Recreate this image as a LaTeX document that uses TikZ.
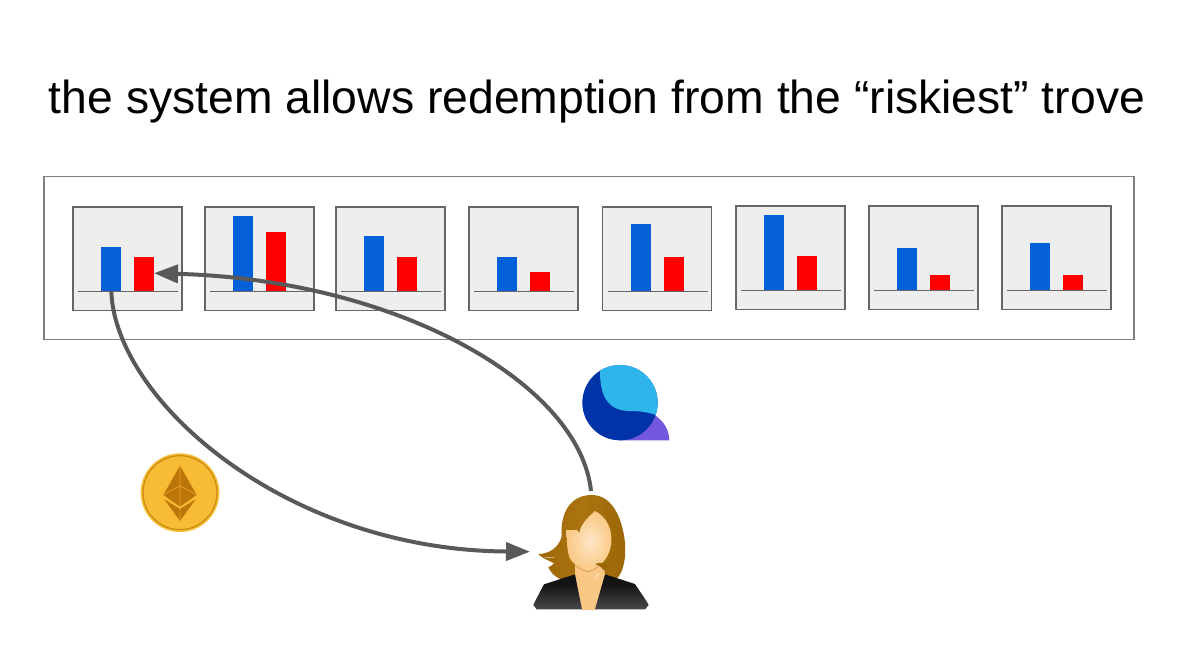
\documentclass[tikz,border=0pt]{standalone}
\usepackage{fontspec}
\setmainfont{Liberation Sans}
\usetikzlibrary{arrows.meta}
\definecolor{boxfill}{HTML}{EEEEEE}
\definecolor{boxline}{HTML}{666666}
\definecolor{outerline}{HTML}{808080}
\definecolor{barblue}{HTML}{0460D8}
\definecolor{conn}{HTML}{595959}
\definecolor{coinfill}{HTML}{F7BC33}
\definecolor{coinring}{HTML}{C98A12}
\definecolor{ethdark}{HTML}{BC7508}
\definecolor{ethline}{HTML}{E8A52A}
\definecolor{liqlight}{HTML}{2EB6EC}
\definecolor{liqdark}{HTML}{0033A8}
\definecolor{liqpurple}{HTML}{7357DE}
\definecolor{hair}{HTML}{9C6606}
\definecolor{hairlight}{HTML}{AC7410}
\definecolor{skin}{HTML}{FAC884}
\definecolor{skinlight}{HTML}{FEE6C6}
\definecolor{chinline}{HTML}{C98A40}
\pgfdeclareverticalshading{jacket}{100bp}{color(0bp)=(black!100); color(6bp)=(black!62); color(22bp)=(black!70); color(60bp)=(black!92); color(100bp)=(black!95)}
\tikzset{
  outerbox/.style={draw=outerline,line width=1.2pt,fill=white,anchor=north west,inner sep=0,outer sep=0},
  trovebox/.style={draw=boxline,line width=1.2pt,fill=boxfill,anchor=north west,inner sep=0,outer sep=0,minimum width=109pt,minimum height=103.5pt},
  baseline rule/.style={draw=boxline,line width=1pt},
  collbar/.style={fill=barblue,anchor=south,inner sep=0,outer sep=0,minimum width=20pt},
  debtbar/.style={fill=red,anchor=south,inner sep=0,outer sep=0,minimum width=20pt},
  flow/.style={draw=conn,line width=4pt,-{Triangle[length=24pt,width=18pt]}},
}
\begin{document}
\begin{tikzpicture}[x=1pt,y=-1pt]
\useasboundingbox (0,0) rectangle (1186,665);
\node[anchor=base,inner sep=0,font=\fontsize{46.3}{50}\selectfont] (title) at (597,113) {the system allows redemption from the “riskiest” trove};
\node[outerbox,minimum width=1090pt,minimum height=163pt] (outer) at (44,176.2) {};
\foreach \n/\bx/\by/\bt/\rt in {1/73/207/247/257,2/204.9/207/216/232,3/336/207/236/257,4/469/207/257/272,5/602.5/207/224/257,6/736/206/215/256,7/869/206/248/275,8/1002/206/243/275}{
  \node[trovebox] (t\n) at (\bx,\by) {};
  \draw[baseline rule] (\bx+5,\by+84.2) -- (\bx+105,\by+84.2);
  \pgfmathsetlengthmacro{\hb}{\by+84-\bt}
  \pgfmathsetlengthmacro{\hr}{\by+84-\rt}
  \node[collbar,minimum height=\hb] (c\n) at (\bx+38.3,\by+84.2) {};
  \node[debtbar,minimum height=\hr] (d\n) at (\bx+71,\by+84.2) {};
}
% Liquity logo
\begin{scope}[shift={(570,355)},scale=1/3]
\fill[liqpurple] (250,178) .. controls (280,195) and (298,225) .. (298,256) -- (150,256) -- cycle;
\fill[liqdark] (150,143) circle (113);
\begin{scope}
\clip (150,143) circle (113);
\fill[liqlight] (90,20) -- (90,48) .. controls (90,110) and (105,165) .. (175,168) .. controls (205,168) and (225,170) .. (252,178) -- (300,190) -- (300,0) -- cycle;
\end{scope}
\end{scope}
% coin
\begin{scope}[shift={(130,445)},scale=1/3]
\fill[coinfill] (150,143) circle (118);
\draw[coinring,line width=1.2pt] (150,143) circle (111);
\fill[ethdark] (150,62) -- (200,150) -- (150,185) -- (100,150) -- cycle;
\fill[ethdark] (103,163) -- (150,192) -- (197,163) -- (150,228) -- cycle;
\draw[ethline,line width=.7pt] (100,150) -- (150,122) -- (200,150) (150,62) -- (150,185) (150,192) -- (150,228);
\end{scope}
% person
\begin{scope}[shift={(520,480)},scale=1/3]
\shade[left color=hair,right color=hair,middle color=hairlight] (215,45) .. controls (275,45) and (305,110) .. (314,180) .. controls (320,235) and (310,275) .. (290,297) -- (120,297) .. controls (105,290) and (92,278) .. (85,262) .. controls (92,258) and (98,255) .. (102,250) .. controls (85,240) and (65,235) .. (55,222) .. controls (85,222) and (115,205) .. (125,170) .. controls (120,100) and (150,45) .. (215,45) -- cycle;
\fill[white,opacity=.5] (68,230) .. controls (80,236) and (95,236) .. (108,230) .. controls (95,232) and (80,232) .. (68,230) -- cycle;
\fill[skin] (165,250) -- (250,250) -- (255,285) -- (225,390) -- (185,390) -- (165,285) -- cycle;
\shade[inner color=skinlight,outer color=skin] (225,93) .. controls (260,110) and (280,150) .. (273,195) .. controls (268,230) and (245,262) .. (205,275) .. controls (175,265) and (148,245) .. (145,220) .. controls (140,195) and (140,170) .. (140,150) -- (170,150) -- (178,158) .. controls (182,135) and (200,115) .. (225,93) -- cycle;
\draw[chinline,line width=.5pt] (165,255) .. controls (178,265) and (190,272) .. (205,275) .. controls (220,272) and (232,262) .. (240,255);
\fill[hair] (225,252) .. controls (240,245) and (258,248) .. (268,262) -- (250,270) .. controls (245,260) and (235,255) .. (225,252) -- cycle;
\fill[white,opacity=.45] (238,282) -- (222,303) -- (232,280) -- cycle;
\shade[shading=jacket] (165,283) -- (72,313) .. controls (60,335) and (50,355) .. (40,375) -- (50,388) -- (186,388) -- cycle;
\shade[shading=jacket] (255,283) -- (345,312) .. controls (360,335) and (375,355) .. (386,375) -- (375,388) -- (225,388) -- cycle;
\coordinate (persontop) at (213,33);
\coordinate (personleft) at (30,215);
\end{scope}
\coordinate (arrowend) at ([yshift=18pt]d1.south east);
\coordinate (collstart) at (c1.south);
\path[flow] (persontop) .. controls (580,385) and (400,280) .. (arrowend);
\path[flow] (collstart) .. controls (115,400) and (285,550) .. (personleft);
\end{tikzpicture}
\end{document}
